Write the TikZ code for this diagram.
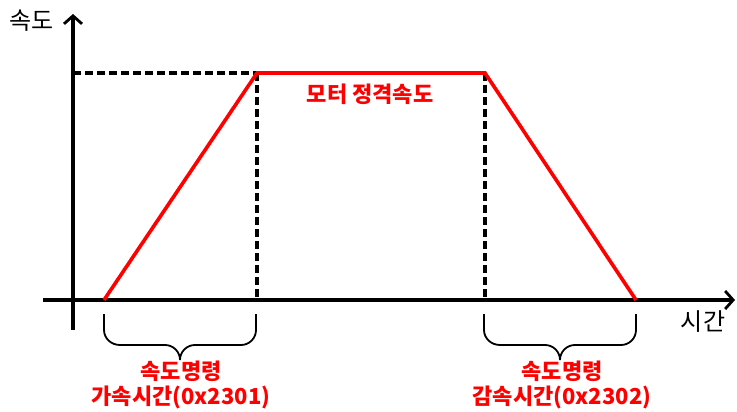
\documentclass[tikz,border=0pt]{standalone}
\usepackage{fontspec}
\newfontfamily\krfont{Noto Sans CJK KR}
\usetikzlibrary{arrows.meta}
\definecolor{profred}{HTML}{FF0000}

\begin{document}
\begin{tikzpicture}[
  x=1pt, y=-1pt,
  font=\krfont,
  axis/.style={line width=3.2pt, -{Straight Barb[length=8pt, width=18pt, line width=2.8pt]}},
  guide/.style={line width=3.2pt, dash pattern=on 8pt off 4pt},
  prof/.style={line width=3.6pt, profred, line join=miter},
  brc/.style={line width=1.8pt},
  axlbl/.style={font=\krfont\fontsize{24}{28}\selectfont, inner sep=0pt},
  redlbl/.style={font=\krfont\bfseries\fontsize{22}{25}\selectfont, profred,
                 align=center, inner sep=0pt}
]
\useasboundingbox (0,0) rectangle (737,412);

% key points of the speed profile
\coordinate (o) at (73,300);
\coordinate (s0) at (104,300);
\coordinate (s1) at (257,73);
\coordinate (s2) at (485,73);
\coordinate (s3) at (636,300);

% axes
\draw[axis] (73,330) -- (73,14) coordinate (ytip);
\draw[axis] (43,300) -- (735,300) coordinate (xtip);
\node (vlbl) [axlbl] at (32,21) {속도};
\node (tlbl) [axlbl] at (703,322) {시간};

% guides
\draw[guide] (o |- s1) -- (s1);
\draw[guide] (s1) -- (s1 |- o);
\draw[guide] (s2) -- (s2 |- o);

% profile
\draw[prof] (s0) -- (s1) -- (s2) -- (s3);
\node (rated) [redlbl] at (370,94) {모터 정격속도};

% braces
\draw[brc] (104,314) -- (104,330) to[out=-90, in=180] (120,345)
  -- (165,345) to[out=0, in=90] (180,360) to[out=90, in=180] (195,345)
  -- (241,345) to[out=0, in=-90] (256,330) -- (256,314);
\draw[brc] (484,314) -- (484,330) to[out=-90, in=180] (500,345)
  -- (545,345) to[out=0, in=90] (560,360) to[out=90, in=180] (575,345)
  -- (621,345) to[out=0, in=-90] (636,330) -- (636,314);

\node (acc) [redlbl] at (181,385) {속도명령\\가속시간(0x2301)};
\node (dec) [redlbl] at (562,385) {속도명령\\감속시간(0x2302)};
\end{tikzpicture}
\end{document}
